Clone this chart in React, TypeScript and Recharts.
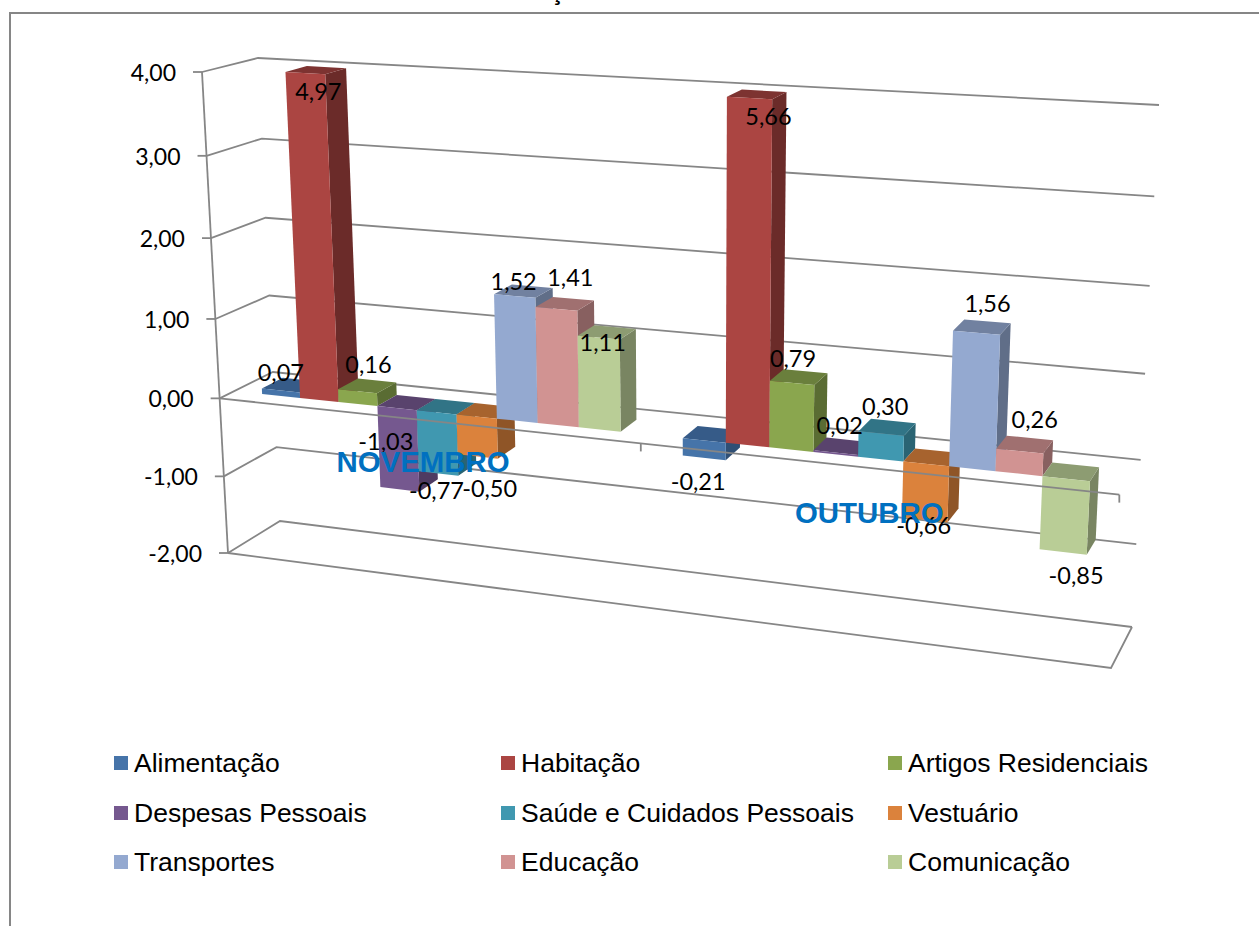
import {
  Bar,
  BarChart,
  CartesianGrid,
  LabelList,
  Legend,
  ReferenceLine,
  XAxis,
  YAxis,
} from "recharts";

const months = ["NOVEMBRO", "OUTUBRO"];
const seriesNames = [
  "Alimentação",
  "Habitação",
  "Artigos Residenciais",
  "Despesas Pessoais",
  "Saúde e Cuidados Pessoais",
  "Vestuário",
  "Transportes",
  "Educação",
  "Comunicação",
];
const alimentacao = [0.07, -0.21];
const habitacao = [4.97, 5.66];
const artigos = [0.16, 0.79];
const despesas = [-1.03, 0.02];
const saude = [-0.77, 0.3];
const vestuario = [-0.5, -0.66];
const transportes = [1.52, 1.56];
const educacao = [1.41, 0.26];
const comunicacao = [1.11, -0.85];
const seriesValues = [
  alimentacao,
  habitacao,
  artigos,
  despesas,
  saude,
  vestuario,
  transportes,
  educacao,
  comunicacao,
];
const yTicks = [-2, -1, 0, 1, 2, 3, 4];
const Y_MIN = -2;
const Y_MAX = 4;

const chartData = months.map((month, m) => {
  const row: Record<string, string | number> = { month };
  seriesNames.forEach((name, s) => {
    row[name] = seriesValues[s][m];
  });
  return row;
});

// face colours of the 3D columns
const frontFill = ["#4674A9", "#AB4542", "#8AA64E", "#75588F", "#4098B0", "#DB823C", "#94A9D0", "#D19392", "#B9CD96"];
const sideFill = ["#2F4F75", "#6B2B29", "#5A6C33", "#4F3B61", "#2A6473", "#8F5527", "#606E88", "#886060", "#798562"];
const topFill = ["#365B88", "#7D3331", "#6A7F3C", "#59436D", "#317486", "#A7632E", "#7181A0", "#A07070", "#8D9C72"];

const GRID = "#868686";
const LABEL_FONT = "Lato, sans-serif";
const ARIAL = "'Liberation Sans', Arial, sans-serif";

const PLOT = { left: 218, top: 72, width: 900, height: 480 };

// the walls of the 3D box as seen on screen: top-left, top-right, bottom-right, bottom-left
const frontWall = [[202, 72], [1137, 126], [1111, 668], [228, 553]];
const backWall = [[258, 58], [1159, 105], [1132, 627], [280, 521]];
const BAR_FRONT = 0.28;
const BAR_BACK = 0.68;

// unit square to quad (perspective)
function project(u: number, t: number, d: number): [number, number] {
  const q = frontWall.map((p, i) => [
    p[0] + (backWall[i][0] - p[0]) * d,
    p[1] + (backWall[i][1] - p[1]) * d,
  ]);
  const [[x0, y0], [x1, y1], [x2, y2], [x3, y3]] = q;
  const sx = x0 - x1 + x2 - x3;
  const sy = y0 - y1 + y2 - y3;
  const dx1 = x1 - x2;
  const dx2 = x3 - x2;
  const dy1 = y1 - y2;
  const dy2 = y3 - y2;
  const den = dx1 * dy2 - dx2 * dy1;
  const g = (sx * dy2 - dx2 * sy) / den;
  const h = (dx1 * sy - sx * dy1) / den;
  const w = g * u + h * t + 1;
  return [
    ((x1 - x0 + g * x1) * u + (x3 - x0 + h * x3) * t + x0) / w,
    ((y1 - y0 + g * y1) * u + (y3 - y0 + h * y3) * t + y0) / w,
  ];
}

const toU = (x: number) => (x - PLOT.left) / PLOT.width;
const toT = (y: number) => (y - PLOT.top) / PLOT.height;
const poly = (pts: [number, number][]) => pts.map((p) => p.join(",")).join(" ");
const formatValue = (v: number) => v.toFixed(2).replace(".", ",");

function Column3D(props: any) {
  const { x, y, width, height, series } = props;
  const u0 = toU(x);
  const u1 = toU(x + width);
  const t0 = toT(Math.min(y, y + height));
  const t1 = toT(Math.max(y, y + height));
  const a = project(u0, t0, BAR_FRONT);
  const b = project(u1, t0, BAR_FRONT);
  const c = project(u1, t1, BAR_FRONT);
  const e = project(u0, t1, BAR_FRONT);
  const f = project(u0, t0, BAR_BACK);
  const g = project(u1, t0, BAR_BACK);
  const i = project(u1, t1, BAR_BACK);
  return (
    <g>
      <polygon points={poly([b, g, i, c])} fill={sideFill[series]} />
      <polygon points={poly([a, b, g, f])} fill={topFill[series]} />
      <polygon points={poly([a, b, c, e])} fill={frontFill[series]} />
    </g>
  );
}

// hand placement of the data labels, [dx, dy] per month, from the end of the column
const labelNudge = [
  [[0, -18], [-6, 23]],
  [[13, 18], [19, 18]],
  [[11, -27], [1, -25]],
  [[-14, -48], [4, -28]],
  [[-2, 16], [4, -28]],
  [[12, 31], [-1, 5]],
  [[-1, -15], [11, -30]],
  [[14, -32], [15, -32]],
  [[4, 4], [13, 23]],
];

function ValueLabel(props: any) {
  const { x, y, width, height, index, series } = props;
  const value = seriesValues[series][index];
  const end = value < 0 ? Math.max(y, y + height) : Math.min(y, y + height);
  const [px, py] = project(toU(x + width / 2), toT(end), BAR_FRONT);
  const [dx, dy] = labelNudge[series][index];
  return (
    <text
      x={px + dx}
      y={py + dy}
      textAnchor="middle"
      dominantBaseline="central"
      fontFamily={LABEL_FONT}
      fontSize={23.5}
      fill="#000"
    >
      {formatValue(value)}
    </text>
  );
}

function WallLine(props: any) {
  const t = toT(props.y1);
  const [fx, fy] = project(0, t, 0);
  const [bx, by] = project(0, t, 1);
  const [rx, ry] = project(1, t, 1);
  const isFloor = Math.abs(t - 1) < 0.001;
  const isTop = Math.abs(t) < 0.001;
  const corner = project(1, 1, 0);
  const leftBottom = project(0, 1, 0);
  return (
    <g stroke={GRID} strokeWidth={1.8} fill="none">
      <polyline points={poly([[fx, fy], [bx, by], [rx, ry]])} />
      {isFloor && <polyline points={poly([[fx, fy], corner, [rx, ry]])} />}
      {isTop && <line x1={fx} y1={fy} x2={leftBottom[0]} y2={leftBottom[1]} />}
    </g>
  );
}

function ValueTick(props: any) {
  const { y, payload } = props;
  const [ex, ey] = project(0, toT(y), 0);
  return (
    <g>
      <line x1={ex - 9} y1={ey} x2={ex} y2={ey} stroke={GRID} strokeWidth={1.8} />
      <text
        x={ex - 26}
        y={ey}
        textAnchor="end"
        dominantBaseline="central"
        fontFamily={LABEL_FONT}
        fontSize={23}
        fill="#000"
      >
        {formatValue(payload.value)}
      </text>
    </g>
  );
}

function MonthTick(props: any) {
  const { x, payload } = props;
  const [px, py] = project(toU(x), (Y_MAX + 0.53) / (Y_MAX - Y_MIN), 0);
  return (
    <text
      x={px - 2}
      y={py - 1}
      textAnchor="middle"
      dominantBaseline="central"
      fontFamily={ARIAL}
      fontWeight="bold"
      fontSize={29.4}
      fill="#0070C0"
    >
      {payload.value}
    </text>
  );
}

function CategoryAxisLine(props: any) {
  const t = toT(props.y1 ?? props.y);
  const start = project(0, t, 0);
  const mid = project(0.5, t, 0);
  const end = project(1, t, 0);
  return (
    <g stroke={GRID} strokeWidth={1.8}>
      <line x1={start[0]} y1={start[1]} x2={end[0]} y2={end[1]} />
      <line x1={mid[0]} y1={mid[1]} x2={mid[0]} y2={mid[1] + 8} />
      <line x1={end[0]} y1={end[1]} x2={end[0]} y2={end[1] + 8} />
    </g>
  );
}

const legendColumns = [114, 501, 888];
const legendRows = [0, 50, 99];

function LegendBlock({ payload }: any) {
  return (
    <div style={{ position: "relative", height: 130 }}>
      {(payload ?? []).map((item: any, i: number) => (
        <div
          key={item.value}
          style={{
            position: "absolute",
            left: legendColumns[i % 3],
            top: legendRows[Math.floor(i / 3)],
            height: 26,
            display: "flex",
            alignItems: "center",
            whiteSpace: "nowrap",
            fontFamily: ARIAL,
            fontSize: 26.5,
            color: "#000",
          }}
        >
          <span style={{ width: 14, height: 14, marginRight: 6, background: item.color }} />
          {item.value}
        </div>
      ))}
    </div>
  );
}

export default function App() {
  return (
    <div
      style={{
        position: "absolute",
        left: 0,
        top: 0,
        width: 1259,
        height: 926,
        overflow: "hidden",
        background: "#fff",
      }}
    >
      <div
        style={{
          position: "absolute",
          left: 9,
          top: 12,
          right: -4,
          bottom: -4,
          border: `2px solid ${GRID}`,
        }}
      />
      <div
        style={{
          position: "absolute",
          left: 557,
          top: -20,
          transform: "translateX(-50%)",
          fontFamily: ARIAL,
          fontWeight: "bold",
          fontSize: 24,
          lineHeight: "24px",
        }}
      >
        Ç
      </div>
      <BarChart
        width={1259}
        height={926}
        data={chartData}
        margin={{ top: PLOT.top, right: 1259 - PLOT.left - PLOT.width, bottom: 926 - PLOT.top - PLOT.height - 30, left: 0 }}
        barCategoryGap="7%"
        barGap={0}
        style={{ position: "absolute", left: 0, top: 0 }}
      >
        <CartesianGrid vertical={false} horizontal={(p: any) => <WallLine key={p.key} {...p} />} />
        <YAxis
          width={PLOT.left}
          domain={[Y_MIN, Y_MAX]}
          ticks={yTicks}
          interval={0}
          axisLine={false}
          tickLine={false}
          tick={(p: any) => <ValueTick {...p} />}
        />
        <XAxis xAxisId="labels" dataKey="month" hide />
        {seriesNames.map((name, s) => (
          <Bar
            key={name}
            name={name}
            dataKey={(row: any) => Math.min(row[name], Y_MAX)}
            fill={frontFill[s]}
            isAnimationActive={false}
            shape={(p: any) => <Column3D {...p} series={s} />}
          />
        ))}
        <ReferenceLine y={0} shape={(p: any) => <CategoryAxisLine {...p} />} />
        {seriesNames.map((name, s) => (
          <Bar
            key={`${name}-label`}
            xAxisId="labels"
            dataKey={(row: any) => Math.min(row[name], Y_MAX)}
            fill="none"
            legendType="none"
            isAnimationActive={false}
            shape={() => <g />}
          >
            <LabelList content={(p: any) => <ValueLabel {...p} series={s} />} />
          </Bar>
        ))}
        <XAxis
          dataKey="month"
          interval={0}
          axisLine={false}
          tickLine={false}
          tick={(p: any) => <MonthTick {...p} />}
        />
        <Legend
          layout="horizontal"
          verticalAlign="middle"
          itemSorter={null}
          wrapperStyle={{ top: 750, left: 0, width: 1259 }}
          content={(p: any) => <LegendBlock {...p} />}
        />
      </BarChart>
    </div>
  );
}
